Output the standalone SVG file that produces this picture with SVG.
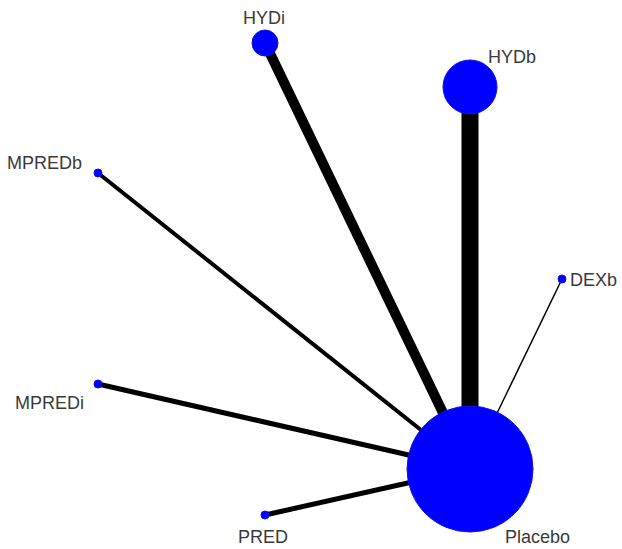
<svg xmlns="http://www.w3.org/2000/svg" width="622" height="549" viewBox="0 0 622 549">
<style>
.n{fill:#0000ff;stroke:#1010ee;stroke-width:1}
.e{stroke:#000;stroke-linecap:butt}
text{font-family:"Liberation Sans",Arial,sans-serif;font-size:18px;fill:#3a3a3a}
</style>
<rect width="622" height="549" fill="#fff"/>
<g id="connectors">
<line class="e" x1="470" y1="87" x2="470" y2="469" stroke-width="17"/>
<line class="e" x1="265" y1="43" x2="470" y2="469" stroke-width="10"/>
<line class="e" x1="98" y1="173" x2="470" y2="469" stroke-width="4"/>
<line class="e" x1="98" y1="384" x2="470" y2="469" stroke-width="5"/>
<line class="e" x1="265" y1="515" x2="470" y2="469" stroke-width="5"/>
<line class="e" x1="562" y1="279" x2="470" y2="469" stroke-width="1.5"/>
</g>
<g id="Placebo"><circle class="n" cx="470" cy="469" r="63"/><text x="505" y="543">Placebo</text></g>
<g id="HYDb"><circle class="n" cx="470" cy="87" r="27"/><text x="488" y="63">HYDb</text></g>
<g id="HYDi"><circle class="n" cx="265" cy="43" r="13"/><text x="243" y="24">HYDi</text></g>
<g id="MPREDb"><circle class="n" cx="98" cy="173" r="4"/><text x="7" y="169">MPREDb</text></g>
<g id="MPREDi"><circle class="n" cx="98" cy="384" r="4"/><text x="15" y="409">MPREDi</text></g>
<g id="PRED"><circle class="n" cx="265" cy="515" r="4"/><text x="238" y="543">PRED</text></g>
<g id="DEXb"><circle class="n" cx="562" cy="279" r="4"/><text x="570" y="286">DEXb</text></g>
</svg>
